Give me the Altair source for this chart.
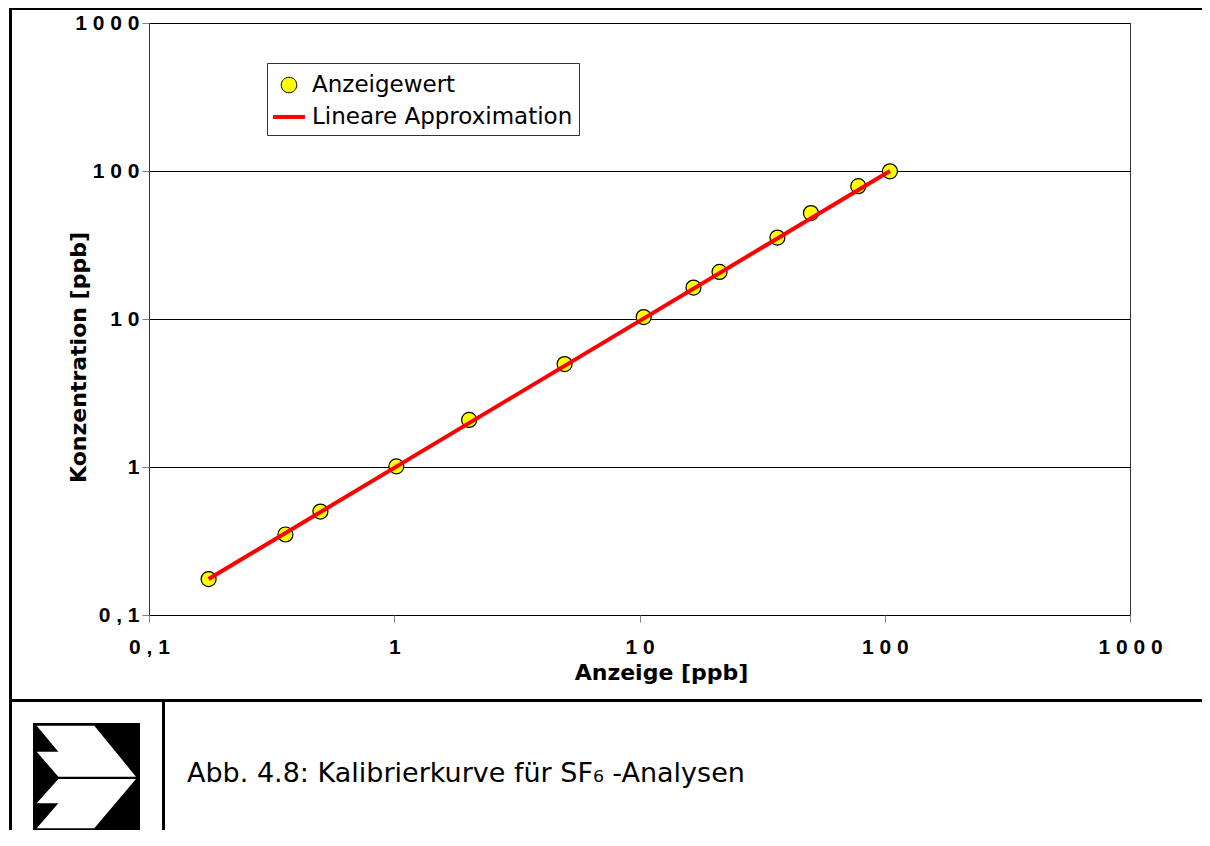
import altair as alt
import pandas as pd

# --- data ---
anzeige = [0.175, 0.36, 0.50, 1.02, 2.02, 4.95, 10.4, 16.6, 21.2, 36.5, 50.0, 78.0, 105.0]
konzentration = [0.175, 0.35, 0.50, 1.01, 2.08, 4.96, 10.3, 16.3, 20.8, 35.5, 52.0, 79.0, 99.5]
fit_anzeige = [0.175, 105.0]
fit_konzentration = [0.175, 100.0]
series_names = ["Anzeigewert", "Lineare Approximation"]
tick_values = [0.1, 1, 10, 100, 1000]
tick_labels = ["0 , 1", "1", "1 0", "1 0 0", "1 0 0 0"]
x_title = "Anzeige [ppb]"
y_title = "Konzentration [ppb]"
caption = "Abb. 4.8: Kalibrierkurve für SF\u2086 -Analysen"

FONT = "DejaVu Sans"
TICKFONT = "Liberation Sans"
W, H = 981, 592

pts = pd.DataFrame({"Anzeige": anzeige, "Konzentration": konzentration,
                    "Reihe": [series_names[0]] * len(anzeige)})
fit = pd.DataFrame({"Anzeige": fit_anzeige, "Konzentration": fit_konzentration})
one = pd.DataFrame({"k": [0]})

label_expr = "[" + ",".join("'" + t + "'" for t in tick_labels) + "][round(log(datum.value)/LN10) + 1]"

xscale = alt.Scale(type="log", domain=[0.1, 1000], nice=False)
yscale = alt.Scale(type="log", domain=[0.1, 1000], nice=False)

xaxis = alt.Axis(values=tick_values, labelExpr=label_expr, title=x_title, grid=False,
                 tickSize=7, tickColor="#808080", domain=False, labelPadding=14,
                 labelFlush=False, labelOverlap=False, labelBound=False,
                 labelFont=TICKFONT, labelFontSize=21, labelFontWeight="bold", labelColor="black",
                 titleFont=FONT, titleFontSize=22, titleFontWeight="bold", titleColor="black",
                 titleX=512, titleY=64, titleAlign="center", titleBaseline="alphabetic")
yaxis = alt.Axis(values=tick_values, labelExpr=label_expr, title=y_title, grid=True,
                 gridColor="black", gridWidth=1, gridOpacity=1,
                 tickSize=7, tickColor="#808080", domain=False, labelPadding=3,
                 labelFlush=False, labelOverlap=False, labelBound=False,
                 labelFont=TICKFONT, labelFontSize=21, labelFontWeight="bold", labelColor="black",
                 titleFont=FONT, titleFontSize=22, titleFontWeight="bold", titleColor="black",
                 titleAngle=270, titleX=-64, titleY=334, titleAlign="center",
                 titleBaseline="alphabetic")

circle_path = "M-0.5,0A0.5,0.5,0,1,1,0.5,0A0.5,0.5,0,1,1,-0.5,0Z"
bar_path = "M-1,-0.1L1,-0.1L1,0.1L-1,0.1Z"
leg = alt.Legend(title=None)

points = alt.Chart(pts).mark_point(filled=True, size=900, strokeWidth=1.2, opacity=1).encode(
    x=alt.X("Anzeige:Q", scale=xscale, axis=xaxis),
    y=alt.Y("Konzentration:Q", scale=yscale, axis=yaxis),
    fill=alt.Fill("Reihe:N", scale=alt.Scale(domain=series_names, range=["#FFFF00", "#FF0000"]), legend=leg),
    stroke=alt.Stroke("Reihe:N", scale=alt.Scale(domain=series_names, range=["#000000", "#FF0000"]), legend=leg),
    shape=alt.Shape("Reihe:N", scale=alt.Scale(domain=series_names, range=[circle_path, bar_path]), legend=leg),
)

line = alt.Chart(fit).mark_line(color="#FF0000", strokeWidth=4).encode(
    x=alt.X("Anzeige:Q"), y=alt.Y("Konzentration:Q"))

def rect(x, x2, y, y2, color="black"):
    return alt.Chart(one).mark_rect(color=color, opacity=1).encode(
        x=alt.value(x), x2=alt.value(x2), y=alt.value(y), y2=alt.value(y2))

frame_top = rect(-140, 1061, -17, -13)
frame_left = rect(-140, -137, -17, 830)
sep_h = rect(-140, 1061, 676, 679)
sep_v = rect(13, 16, 676, 830)
logo_bg = rect(-116, -9, 700, 807)

chevrons = ("M-0.931,-0.946L0.146,-0.946L0.925,0.007L-0.527,0.007L-0.931,-0.46L-0.527,-0.46Z"
            "M-0.527,0.05L0.925,0.05L0.146,0.972L-0.931,0.972L-0.527,0.505L-0.931,0.505Z")
logo = alt.Chart(one).mark_point(shape=chevrons, filled=True, color="white", size=11449,
                                 strokeWidth=0, opacity=1).encode(
    x=alt.value(-62.5), y=alt.value(753.3))

cap = alt.Chart(one).mark_text(align="left", baseline="alphabetic", font=FONT, fontSize=27,
                               color="black").encode(
    x=alt.value(38), y=alt.value(759), text=alt.value(caption))

chart = alt.layer(points, line, frame_top, frame_left, sep_h, sep_v, logo_bg, logo, cap).properties(
    width=W, height=H,
    padding={"left": 141, "top": 15, "right": 72, "bottom": 215},
    autosize=alt.AutoSizeParams(type="none"),
    background="white",
).configure_view(stroke="#333333", strokeWidth=1).configure_legend(
    orient="none", legendX=118, legendY=40, padding=6, strokeColor="#333333", fillColor="white",
    symbolSize=961, symbolStrokeWidth=1, labelFont=FONT, labelFontSize=23, labelColor="black",
    labelLimit=400, labelOffset=7, rowPadding=4,
)

chart.save("out.html", embed_options={"renderer": "svg", "actions": False})
